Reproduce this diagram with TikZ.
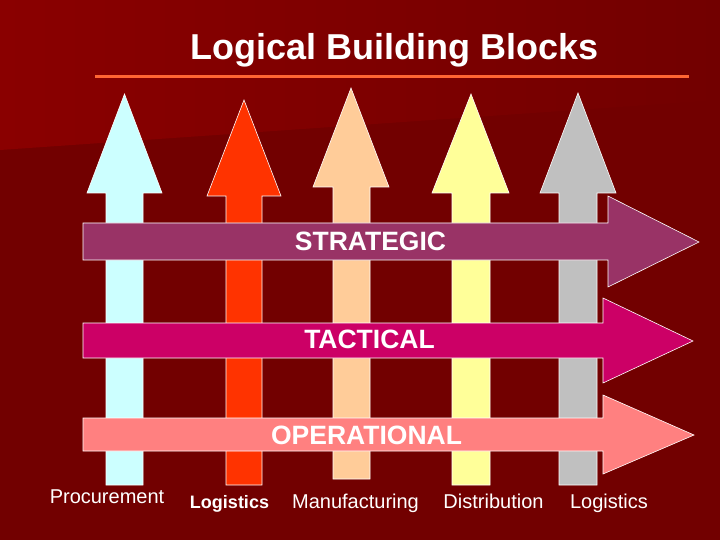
\documentclass[tikz,border=0pt]{standalone}
\usepackage{fontspec}
\setmainfont{Liberation Sans}
\definecolor{bgdark}{HTML}{720000}
\definecolor{bglight}{HTML}{8A0000}
\definecolor{rulecol}{HTML}{FF6633}
\definecolor{procol}{HTML}{CCFFFF}
\definecolor{logcol}{HTML}{FF3300}
\definecolor{mancol}{HTML}{FFCC99}
\definecolor{discol}{HTML}{FFFF99}
\definecolor{retcol}{HTML}{C0C0C0}
\definecolor{stracol}{HTML}{993366}
\definecolor{tactcol}{HTML}{CC0066}
\definecolor{opercol}{HTML}{FF8080}
\begin{document}
\begin{tikzpicture}[x=1pt, y=-1pt,
	blockarrow/.style={draw=white, line width=0.6pt, line join=miter},
	label/.style={text=white, inner sep=0pt, anchor=base, font=\fontsize{20}{22}\selectfont},
	level/.style={label, font=\bfseries\fontsize{26.5}{28}\selectfont}]
	\useasboundingbox (0,0) rectangle (720,540);
	\fill[bgdark] (0,0) rectangle (720,540);
	\shade[left color=bglight, right color=bgdark] (0,0)--(720,0)--(720,100)--(0,150)--cycle;
	\node[label, font=\bfseries\fontsize{36}{40}\selectfont] (title) at (394.5,59.5) {Logical Building Blocks};
	\draw[rulecol, line width=3pt] (95,77)--(689,77);
	% vertical arrows
	\filldraw[blockarrow, fill=procol] (106,485)--(106,193)--(87,193)--(124.5,94)--(162,193)--(143,193)--(143,485)--cycle;
	\filldraw[blockarrow, fill=logcol] (226,485)--(226,196)--(207,196)--(244,100)--(281,196)--(262,196)--(262,485)--cycle;
	\filldraw[blockarrow, fill=mancol] (333,479)--(333,187)--(313,187)--(351,88)--(389,187)--(370,187)--(370,479)--cycle;
	\filldraw[blockarrow, fill=discol] (452,485)--(452,193)--(432,193)--(471,94)--(509,193)--(490,193)--(490,485)--cycle;
	\filldraw[blockarrow, fill=retcol] (559,485)--(559,193)--(540,193)--(578,93)--(616,193)--(597,193)--(597,485)--cycle;
	% horizontal arrows
	\filldraw[blockarrow, fill=stracol] (83,223)--(608,223)--(608,196)--(699,242)--(608,287)--(608,260)--(83,260)--cycle;
	\filldraw[blockarrow, fill=tactcol] (83,323)--(603,323)--(603,298)--(693,341)--(603,383)--(603,358)--(83,358)--cycle;
	\filldraw[blockarrow, fill=opercol] (83,418)--(603,418)--(603,395)--(694,435)--(603,474)--(603,451)--(83,451)--cycle;
	\node[level] (strategic) at (370.5,251) {STRATEGIC};
	\node[level] (tactical) at (369.5,348) {TACTICAL};
	\node[level] (operational) at (366.5,444) {OPERATIONAL};
	% bottom labels
	\node[label] (procurement) at (107,503) {Procurement};
	\node[label, font=\bfseries\fontsize{18}{20}\selectfont] (logistics1) at (229.5,508) {Logistics};
	\node[label] (manufacturing) at (355.5,508) {Manufacturing};
	\node[label] (distribution) at (493.5,508) {Distribution};
	\node[label] (logistics2) at (609,508) {Logistics};
\end{tikzpicture}
\end{document}
